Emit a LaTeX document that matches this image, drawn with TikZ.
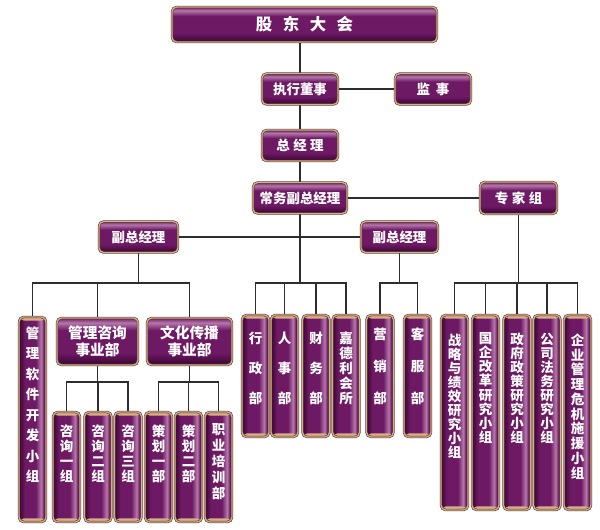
\documentclass[tikz,border=0pt]{standalone}
\usepackage{fontspec}
\newfontfamily\cjk{Noto Sans CJK SC}
\usetikzlibrary{backgrounds}

\definecolor{pmid}{RGB}{110,25,100}
\definecolor{pdark}{RGB}{55,5,50}
\definecolor{plight}{RGB}{180,120,170}
\definecolor{boxgold}{RGB}{215,175,135}
\definecolor{boxedge}{RGB}{80,50,45}
\definecolor{linegray}{RGB}{45,45,45}

\pgfdeclareverticalshading{wideshade}{100bp}{color(0bp)=(pdark); color(25bp)=(pdark); color(38bp)=(pmid); color(62bp)=(pmid); color(70bp)=(plight); color(75bp)=(pmid); color(100bp)=(pmid)}
\pgfdeclarehorizontalshading{tallshade}{100bp}{color(0bp)=(pdark); color(25bp)=(pdark); color(36bp)=(pmid); color(56bp)=(pmid); color(66bp)=(plight); color(71bp)=(pmid); color(75bp)=(pdark); color(100bp)=(pdark)}

\newcommand\pxu{0.03cm}

\tikzset{
  box/.style={draw=boxedge, double=boxgold, double distance=1.1pt, line width=0.5pt, inner sep=0pt, text=white},
  wbox/.style={box, rounded corners=4pt, shade, shading=wideshade, font=\cjk\bfseries\fontsize{11.5}{13}\selectfont},
  tbox/.style={box, rounded corners=4pt, shade, shading=tallshade, minimum width=27*\pxu,
    path picture={
      \fill[boxgold] (path picture bounding box.north west) rectangle ([yshift=-3pt]path picture bounding box.north east);
      \fill[boxgold] (path picture bounding box.south west) rectangle ([yshift=3pt]path picture bounding box.south east);}},
  ttext/.style={text=white, align=center, inner sep=0pt},
  conn/.style={draw=linegray, line width=1pt}
}

% tall box: name, x, top, bottom, first char y, line pitch (pt), text
\newcommand{\tallbox}[7]{%
  \node[tbox, minimum height={(#4-#3)*\pxu}] (#1) at (#2,{(#3+#4)/2}) {};
  \node[ttext, anchor=north, font=\cjk\bfseries\fontsize{11.5}{#6}\selectfont] (#1-t) at (#2,#5-6.5) {#7};
}

\begin{document}
\begin{tikzpicture}[x=0.03cm, y=-0.03cm]
  \useasboundingbox (0,0) rectangle (600,529);

  % top levels
  \node[wbox, minimum width=265*\pxu, minimum height=35*\pxu, font=\cjk\bfseries\fontsize{14}{15}\selectfont] (gd) at (304.5,24.5) {股\hspace{9pt}东\hspace{9pt}大\hspace{9pt}会};
  \node[wbox, minimum width=76*\pxu, minimum height=31*\pxu] (zxds) at (300,89) {执行董事};
  \node[wbox, minimum width=76*\pxu, minimum height=31*\pxu] (js) at (433,89) {监\hspace{5pt}事};
  \node[wbox, minimum width=76*\pxu, minimum height=31*\pxu] (zjl) at (300,145.5) {总\hspace{3pt}经\hspace{3pt}理};
  \node[wbox, minimum width=94*\pxu, minimum height=31*\pxu] (cw) at (300,198) {常务副总经理};
  \node[wbox, minimum width=77*\pxu, minimum height=32*\pxu] (zj) at (518.5,198) {专\hspace{3pt}家\hspace{3pt}组};
  \node[wbox, minimum width=79*\pxu, minimum height=31*\pxu] (fzL) at (138.5,237) {副总经理};
  \node[wbox, minimum width=77*\pxu, minimum height=31*\pxu] (fzR) at (399.5,237) {副总经理};

  % business units
  \node[wbox, minimum width=81*\pxu, minimum height=47*\pxu, align=center, font=\cjk\bfseries\fontsize{12.5}{14.5}\selectfont] (glzx) at (97.5,341.5) {管理咨询\\事业部};
  \node[wbox, minimum width=85*\pxu, minimum height=47*\pxu, align=center, font=\cjk\bfseries\fontsize{12.5}{14.5}\selectfont] (whcb) at (189.5,341.5) {文化传播\\事业部};

  % tall boxes
  \tallbox{rj}{32.5}{317}{522}{333}{17.5}{管\\理\\软\\件\\开\\发\\小\\组}
  \tallbox{zx1}{66.5}{412}{522}{431}{12.8}{咨\\询\\一\\组}
  \tallbox{zx2}{98}{412}{522}{431}{12.8}{咨\\询\\二\\组}
  \tallbox{zx3}{128}{412}{522}{431}{12.8}{咨\\询\\三\\组}
  \tallbox{ch1}{158.5}{412}{522}{431}{12.8}{策\\划\\一\\部}
  \tallbox{ch2}{188.5}{412}{522}{431}{12.8}{策\\划\\二\\部}
  \tallbox{px}{218.5}{412}{522}{430}{13.7}{职\\业\\培\\训\\部}
  \tallbox{xz}{255.5}{315}{437}{338}{25.6}{行\\政\\部}
  \tallbox{rs}{284.5}{315}{437}{338}{25.6}{人\\事\\部}
  \tallbox{cwb}{316}{315}{437}{338}{25.6}{财\\务\\部}
  \tallbox{jdl}{346}{315}{437}{338}{12.8}{嘉\\德\\利\\会\\所}
  \tallbox{yx}{380}{315}{437}{334}{27.3}{营\\销\\部}
  \tallbox{kf}{417.5}{315}{437}{334}{27.3}{客\\服\\部}
  \tallbox{zl}{454.5}{315}{510}{340}{12}{战\\略\\与\\绩\\效\\研\\究\\小\\组}
  \tallbox{gq}{485.5}{315}{510}{339}{12}{国\\企\\改\\革\\研\\究\\小\\组}
  \tallbox{zf}{517}{315}{510}{339}{12}{政\\府\\政\\策\\研\\究\\小\\组}
  \tallbox{gs}{547}{315}{510}{339}{12}{公\\司\\法\\务\\研\\究\\小\\组}
  \tallbox{qy}{577.5}{315}{510}{340}{12.6}{企\\业\\管\\理\\危\\机\\施\\援\\小\\组}

  % connectors
  \begin{pgfonlayer}{background}
    \coordinate (busA) at (0,283);
    \coordinate (busB) at (0,382);
    \draw[conn] (zxds.north |- gd.south) -- (zxds.north);
    \draw[conn] (zxds.east) -- (js.west);
    \draw[conn] (zxds.south) -- (zjl.north);
    \draw[conn] (zjl.south) -- (cw.north);
    \draw[conn] (cw.east) -- (zj.west);
    \draw[conn] (fzL.east) -- (fzR.west);
    \foreach \c in {rj,glzx,whcb}
      \draw[conn] (fzL.south) -- (fzL.south |- busA) -| (\c.north);
    \foreach \c in {xz,rs,cwb,jdl}
      \draw[conn] (cw.south) -- (cw.south |- busA) -| (\c.north);
    \foreach \c in {yx,kf}
      \draw[conn] (fzR.south) -- (fzR.south |- busA) -| (\c.north);
    \foreach \c in {zl,gq,zf,gs,qy}
      \draw[conn] (zj.south) -- (zj.south |- busA) -| (\c.north);
    \foreach \c in {zx1,zx2,zx3}
      \draw[conn] (glzx.south) -- (glzx.south |- busB) -| (\c.north);
    \foreach \c in {ch1,ch2,px}
      \draw[conn] (whcb.south) -- (whcb.south |- busB) -| (\c.north);
  \end{pgfonlayer}
\end{tikzpicture}
\end{document}
